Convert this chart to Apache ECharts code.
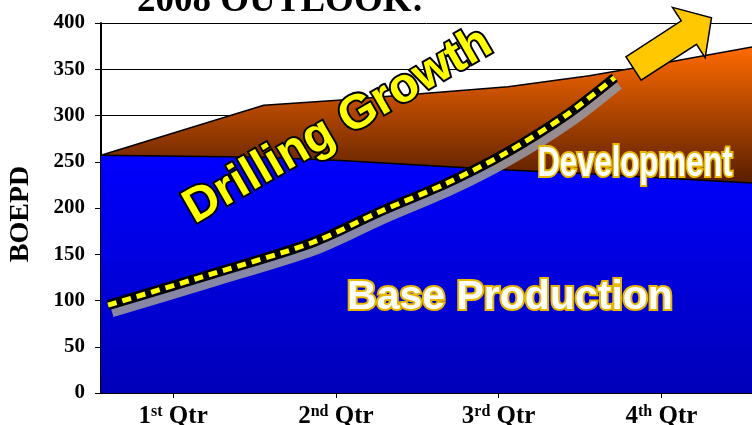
<!DOCTYPE html>
<html>
<head>
<meta charset="utf-8">
<script src="https://cdn.jsdelivr.net/npm/echarts@6/dist/echarts.min.js"></script>
<style>
  html, body { margin: 0; padding: 0; background: #fff; }
  #chart { width: 752px; height: 425px; }
</style>
</head>
<body>
<div id="chart"></div>
<script>
// x is in months from start of year, quarters labelled on the axis
const months = [0, 1.5, 3, 4.5, 6, 7.5, 9, 10.5, 12];
const baseProduction = [257, 256, 255, 251, 246, 241, 237, 232, 227];
const development = [0, 28, 56, 66, 78, 90, 106, 126, 147];

// hand-drawn "drilling growth" trend
const growthX = [0.13, 2.06, 3.91, 5.14, 6.38, 7.45, 8.59, 9.47];
const growthY = [95, 129, 163, 196, 227, 259, 301, 341];

const quarterPos = [1.33, 4.33, 7.33, 10.33];
const quarterNum = ["1", "2", "3", "4"];
const quarterSup = ["st", "nd", "rd", "th"];

const yTicks = [0, 50, 100, 150, 200, 250, 300, 350, 400];

function pairs(xs, ys) {
  return xs.map((x, i) => [x, ys[i]]);
}

// development sits on top of base production
const totalProduction = baseProduction.map((b, i) => b + development[i]);

// block arrow at top right
function arrowPoints() {
  const ang = 33 * Math.PI / 180;
  const d = [Math.cos(ang), -Math.sin(ang)];
  const n = [Math.sin(ang), Math.cos(ang)];
  const t = [633.5, 68.5];
  const sw = 14, hw = 30, ls = 66, lh = 27;
  const p = (a, b) => [t[0] + a * d[0] + b * n[0], t[1] + a * d[1] + b * n[1]];
  return [p(0, -sw), p(ls, -sw), p(ls, -hw), p(ls + lh, 0), p(ls, hw), p(ls, sw), p(0, sw)];
}

const serif = "'Liberation Serif', 'Times New Roman', serif";
const sans = "'Liberation Sans', Arial, sans-serif";

let myChart = echarts.init(document.getElementById("chart"));
myChart.setOption({
  animation: false,
  backgroundColor: "#fff",
  grid: { left: 101, right: 0, top: 23, bottom: 32, containLabel: false, outerBoundsMode: "none" },
  xAxis: {
    type: "value",
    min: 0,
    max: 12,
    splitLine: { show: false },
    axisLine: { show: true, lineStyle: { color: "#000", width: 2 } },
    axisTick: {
      show: true,
      customValues: quarterPos,
      length: 5,
      lineStyle: { color: "#000" }
    },
    axisLabel: {
      customValues: quarterPos,
      margin: 11,
      formatter: function (v) {
        let i = 0;
        quarterPos.forEach((q, k) => { if (Math.abs(q - v) < 0.5) i = k; });
        return "{n|" + quarterNum[i] + "}{s|" + quarterSup[i] + "}{n| Qtr}";
      },
      rich: {
        n: { fontFamily: serif, fontWeight: "bold", fontSize: 25, color: "#000" },
        s: { fontFamily: serif, fontWeight: "bold", fontSize: 16, color: "#000", verticalAlign: "top" }
      }
    }
  },
  yAxis: {
    type: "value",
    min: yTicks[0],
    max: yTicks[yTicks.length - 1],
    interval: 50,
    name: "BOEPD",
    nameLocation: "middle",
    nameRotate: 90,
    nameGap: 66,
    nameTextStyle: {
      fontFamily: serif, fontWeight: "bold", fontSize: 28, color: "#000",
      padding: [0, 12, 0, 0]
    },
    axisLine: { show: true, lineStyle: { color: "#000", width: 2 } },
    axisTick: { show: true, length: 6, lineStyle: { color: "#000" } },
    axisLabel: { margin: 16, fontFamily: serif, fontWeight: "bold", fontSize: 21, color: "#000" },
    splitLine: { show: true, lineStyle: { color: "#000", width: 1 } }
  },
  series: [
    {
      name: "Development",
      type: "line",
      data: pairs(months, totalProduction),
      showSymbol: false,
      lineStyle: { color: "#000", width: 1.5 },
      areaStyle: {
        opacity: 1,
        color: new echarts.graphic.LinearGradient(0, 0, 0, 1, [
          { offset: 0, color: "#ff6a00" },
          { offset: 0.39, color: "#5a1e00" },
          { offset: 1, color: "#5a1e00" }
        ])
      },
      z: 1
    },
    {
      name: "Base Production",
      type: "line",
      data: pairs(months, baseProduction),
      showSymbol: false,
      lineStyle: { color: "#000", width: 1.5 },
      areaStyle: {
        opacity: 1,
        color: new echarts.graphic.LinearGradient(0, 0, 0, 1, [
          { offset: 0, color: "#0000ff" },
          { offset: 1, color: "#0000b8" }
        ])
      },
      z: 2
    },
    {
      name: "growth-band",
      type: "line",
      data: pairs(growthX, growthY),
      smooth: 0.3,
      showSymbol: false,
      lineStyle: {
        color: "#000",
        width: 10,
        cap: "butt",
        shadowColor: "rgba(150,150,160,0.9)",
        shadowOffsetX: 4,
        shadowOffsetY: 7
      },
      z: 5
    },
    {
      name: "growth-dash",
      type: "line",
      data: pairs(growthX, growthY),
      smooth: 0.3,
      showSymbol: false,
      lineStyle: { color: "#ffff00", width: 5, type: [9, 6], cap: "butt" },
      z: 6
    }
  ],
  graphic: [
    {
      type: "text",
      x: 137,
      y: 20,
      z: 100,
      style: {
        x: 0, y: 0,
        text: "2008 OUTLOOK:",
        font: "bold 37px " + serif,
        fill: "#000",
        verticalAlign: "bottom"
      }
    },
    {
      type: "polygon",
      z: 100,
      shape: { points: arrowPoints() },
      style: { fill: "#ffc800", stroke: "#000", lineWidth: 1.5 }
    },
    {
      type: "text",
      x: 338,
      y: 126,
      rotation: 30 * Math.PI / 180,
      z: 100,
      style: {
        x: 0, y: 0,
        text: "Drilling Growth",
        font: "bold 48px " + sans,
        fill: "#ffff00",
        stroke: "#000",
        lineWidth: 4,
        align: "center",
        verticalAlign: "middle",
        shadowColor: "rgba(150,150,160,0.85)",
        shadowOffsetX: 8,
        shadowOffsetY: 8
      }
    },
    {
      type: "text",
      x: 635,
      y: 164,
      scaleX: 0.74,
      z: 100,
      style: {
        x: 0, y: 0,
        text: "Development",
        font: "bold 42px " + sans,
        fill: "#fff",
        stroke: "#e6b800",
        lineWidth: 4,
        align: "center",
        verticalAlign: "middle"
      }
    },
    {
      type: "text",
      x: 510,
      y: 298,
      z: 100,
      style: {
        x: 0, y: 0,
        text: "Base Production",
        font: "bold 41px " + sans,
        fill: "#fff",
        stroke: "#e6b800",
        lineWidth: 4,
        align: "center",
        verticalAlign: "middle"
      }
    }
  ]
});
</script>
</body>
</html>
